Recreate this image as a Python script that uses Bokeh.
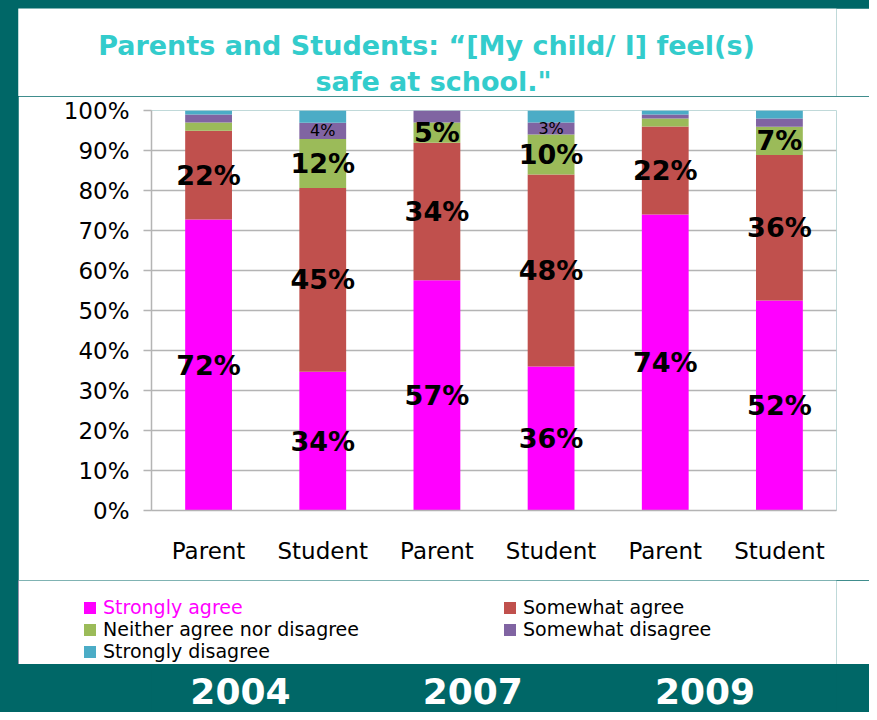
from bokeh.plotting import figure
from bokeh.models import (ColumnDataSource, Range1d, FixedTicker, Legend,
                          LegendItem)
from bokeh.layouts import column
from bokeh.core.properties import value
from bokeh.embed import file_html
from bokeh.resources import INLINE

# ---------------- data ----------------
years = ["2004", "2007", "2009"]
groups = ["Parent", "Student"]
series = ["Strongly agree", "Somewhat agree", "Neither agree nor disagree",
          "Somewhat disagree", "Strongly disagree"]
colors = ["#FF00FF", "#C0504D", "#9BBB59", "#8064A2", "#4BACC6"]

strongly_agree = [72, 34, 57, 36, 74, 52]
somewhat_agree = [22, 45, 34, 48, 22, 36]
neither = [2, 12, 5, 10, 2, 7]
somewhat_disagree = [2, 4, 3, 3, 1, 2]
strongly_disagree = [1, 3, 0, 3, 1, 2]

labels_sa = ["72%", "34%", "57%", "36%", "74%", "52%"]
labels_swa = ["22%", "45%", "34%", "48%", "22%", "36%"]
labels_n = ["", "12%", "5%", "10%", "", "7%"]
labels_sd = ["", "4%", "", "3%", "", ""]

y_ticks = [0, 10, 20, 30, 40, 50, 60, 70, 80, 90, 100]
y_tick_labels = ["0%", "10%", "20%", "30%", "40%", "50%", "60%", "70%",
                 "80%", "90%", "100%"]
title_lines = ["Parents and Students: \u201c[My child/ I] feel(s)",
               "safe at school.\""]

TEAL = "#006767"
FONT = "DejaVu Sans"
GRID = "#b4b4b4"
TITLE_COLOR = "#33CCCC"

# ---------------- derived ----------------
cat_labels = [g for y in years for g in groups]
xpos = list(range(1, len(cat_labels) + 1))
raw = [strongly_agree, somewhat_agree, neither, somewhat_disagree, strongly_disagree]
keys = ["sa", "swa", "n", "sd", "std"]
totals = [sum(col) for col in zip(*raw)]
pct = [[v / t * 100 for v, t in zip(s, totals)] for s in raw]
data = {"x": xpos}
for k, s in zip(keys, pct):
    data[k] = s
src = ColumnDataSource(data)

cum = [0.0] * len(xpos)
centers = []
for s in pct:
    centers.append([c + v / 2 for c, v in zip(cum, s)])
    cum = [c + v for c, v in zip(cum, s)]

big_x, big_y, big_t = [], [], []
for labs, cen in zip([labels_sa, labels_swa, labels_n], centers[:3]):
    for xv, yv, t in zip(xpos, cen, labs):
        if t:
            big_x.append(xv); big_y.append(yv); big_t.append(t)
small_x, small_y, small_t = [], [], []
for xv, yv, t in zip(xpos, centers[3], labels_sd):
    if t:
        small_x.append(xv); small_y.append(yv); small_t.append(t)

common = dict(output_backend="svg", toolbar_location=None)
BL, BR = 133, 33   # shared left/right borders (frames are aligned in a column)
WIDE = 984
STRIP_STYLE = {"clip-path": "inset(0px 0px 0px %dpx)" % BL,
               "max-width": "none", "min-width": "%dpx" % WIDE,
               "flex-shrink": "0"}

# ---------------- title strip ----------------
tf = figure(title=None, width=WIDE, height=88, x_range=Range1d(0, 818),
            y_range=Range1d(88, 0), min_border_left=BL, min_border_right=BR,
            min_border_top=0, min_border_bottom=0, margin=(8, 0, 0, -115),
            x_axis_location=None, y_axis_location=None,
            background_fill_color="white", border_fill_color="white",
            outline_line_color=None, styles=STRIP_STYLE, **common)
tf.grid.visible = False
tf.text(x=[408, 415], y=[37, 73], text=title_lines, text_align="center",
        text_baseline="alphabetic", text_font=value(FONT), text_font_size="27px",
        text_font_style="bold", text_color=TITLE_COLOR)

# ---------------- main chart ----------------
p = figure(title=None, x_range=Range1d(0.5, len(xpos) + 0.5),
           y_range=Range1d(0, 100), width=851, height=484,
           min_border_left=BL, min_border_right=BR, min_border_top=14,
           min_border_bottom=70, margin=(0, 0, 0, 18),
           background_fill_color="white", border_fill_color="white",
           outline_line_color=None, **common)

rs = p.vbar_stack(keys, x="x", width=0.41, source=src, fill_color=colors,
                  line_color=None)

p.xgrid.visible = False
p.ygrid.ticker = FixedTicker(ticks=y_ticks)
p.ygrid.grid_line_color = GRID
p.ygrid.grid_line_width = 1.5

p.yaxis.ticker = FixedTicker(ticks=y_ticks)
p.yaxis.major_label_overrides = {t: l for t, l in zip(y_ticks, y_tick_labels)}
p.yaxis.axis_line_color = GRID
p.yaxis.axis_line_width = 1.5
p.yaxis.major_tick_line_color = GRID
p.yaxis.major_tick_line_width = 1.5
p.yaxis.major_tick_out = 8
p.yaxis.major_tick_in = 0
p.yaxis.minor_tick_line_color = None
p.yaxis.major_label_standoff = 14
p.yaxis.major_label_text_font = FONT
p.yaxis.major_label_text_font_size = "23px"
p.yaxis.major_label_text_color = "black"

p.xaxis.ticker = FixedTicker(ticks=xpos)
p.xaxis.major_label_overrides = {xv: l for xv, l in zip(xpos, cat_labels)}
p.xaxis.axis_line_color = GRID
p.xaxis.axis_line_width = 1.5
p.xaxis.major_tick_line_color = None
p.xaxis.minor_tick_line_color = None
p.xaxis.major_tick_out = 0
p.xaxis.major_label_standoff = 27
p.xaxis.major_label_text_font = FONT
p.xaxis.major_label_text_font_size = "23px"
p.xaxis.major_label_text_color = "black"

p.text(x=big_x, y=big_y, text=big_t, text_align="center", text_baseline="middle",
       text_font=value(FONT), text_font_size="27px", text_font_style="bold",
       text_color="black")
p.text(x=small_x, y=small_y, text=small_t, text_align="center",
       text_baseline="middle", text_font=value(FONT), text_font_size="16px",
       text_color="black")

# ---------------- legend strip ----------------
lf = figure(title=None, width=WIDE, height=84, x_range=Range1d(0, 1),
            y_range=Range1d(0, 1), min_border_left=BL, min_border_right=BR,
            min_border_top=0, min_border_bottom=0, margin=(0, 0, 0, -115),
            x_axis_location=None, y_axis_location=None,
            background_fill_color="white", border_fill_color="white",
            outline_line_color=None, styles=STRIP_STYLE, **common)
lf.grid.visible = False
# legend swatches (kept outside the visible range of this strip)
swatches = [lf.vbar(x=[-1], top=[1], width=0.1, fill_color=c, line_color=None)
            for c in colors]
blank = lf.vbar(x=[], top=[], width=0.1, fill_color=None, line_color=None)

leg_style = dict(border_line_color=None, background_fill_alpha=0, padding=0,
                 margin=0, spacing=0, glyph_width=15, glyph_height=15,
                 label_standoff=6, label_height=21, label_width=399,
                 label_text_font=FONT, label_text_font_size="19px")

black_items = [LegendItem(label=" ", renderers=[blank]),
               LegendItem(label=series[2], renderers=[swatches[2]]),
               LegendItem(label=series[4], renderers=[swatches[4]]),
               LegendItem(label=series[1], renderers=[swatches[1]]),
               LegendItem(label=series[3], renderers=[swatches[3]])]
lf.add_layout(Legend(items=black_items, location=(64, 2), nrows=3,
                     orientation="vertical", label_text_color="black",
                     **leg_style))
lf.add_layout(Legend(items=[LegendItem(label=series[0], renderers=[swatches[0]])],
                     location=(64, 46), label_text_color="#FF00FF", **leg_style))

# ---------------- years strip ----------------
year_x = list(range(len(years)))
p2 = figure(title=None, x_range=Range1d(-0.383, 2.566), y_range=Range1d(-1, 1),
            width=851, height=48, x_axis_location=None, y_axis_location=None,
            min_border_left=BL, min_border_right=BR, min_border_top=5,
            min_border_bottom=0, margin=(0, 0, 0, 18),
            background_fill_color=TEAL, border_fill_color=TEAL,
            outline_line_color=None, **common)
p2.grid.visible = False
p2.text(x=year_x, y=[0] * len(years), text=years, text_align="center",
        text_baseline="middle", text_font=value(FONT), text_font_size="36px",
        text_font_style="bold", text_color="white")

layout = column(tf, p, lf, p2, styles={"background-color": TEAL})

html = file_html(layout, INLINE)
html = html.replace("<body>", '<body style="background-color:%s">' % TEAL, 1)
open("out.html", "w").write(html)
